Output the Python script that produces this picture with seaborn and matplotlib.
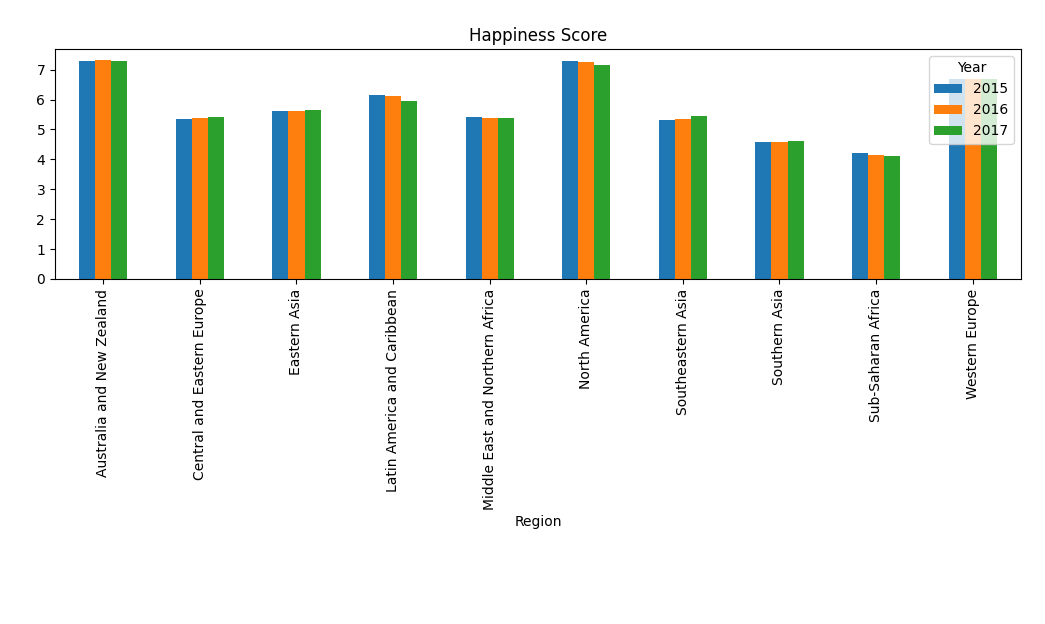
import seaborn as sns
import numpy as np
import pandas as pd
import matplotlib.pyplot as plt

# Average happiness score per region
regions = ['Australia and New Zealand', 'Central and Eastern Europe', 'Eastern Asia',
           'Latin America and Caribbean', 'Middle East and Northern Africa', 'North America',
           'Southeastern Asia', 'Southern Asia', 'Sub-Saharan Africa', 'Western Europe']
years = ['2015', '2016', '2017']
score_2015 = [7.285, 5.333, 5.626, 6.145, 5.407, 7.273, 5.317, 4.581, 4.203, 6.690]
score_2016 = [7.324, 5.371, 5.624, 6.102, 5.386, 7.254, 5.339, 4.563, 4.136, 6.686]
score_2017 = [7.300, 5.409, 5.647, 5.958, 5.370, 7.155, 5.445, 4.628, 4.112, 6.703]

df = pd.DataFrame({
    'Region': regions * 3,
    'Year': np.repeat(years, len(regions)),
    'Score': score_2015 + score_2016 + score_2017,
})

fig, ax = plt.subplots(figsize=(10.45, 6.24), dpi=100)
sns.barplot(data=df, x='Region', y='Score', hue='Year',
            palette=['#1f77b4', '#ff7f0e', '#2ca02c'],
            width=0.5, gap=0, saturation=1, ax=ax)

ax.set_title('Happiness Score')
ax.set_xlabel('Region')
ax.set_ylabel('')
ax.set_xlim(-0.5, len(regions) - 0.5)
ax.tick_params(axis='x', rotation=90)
ax.legend(title='Year', loc='upper right')

plt.subplots_adjust(left=0.0526, right=0.977, top=0.9215, bottom=0.553)
plt.savefig('out.png', dpi=100)
